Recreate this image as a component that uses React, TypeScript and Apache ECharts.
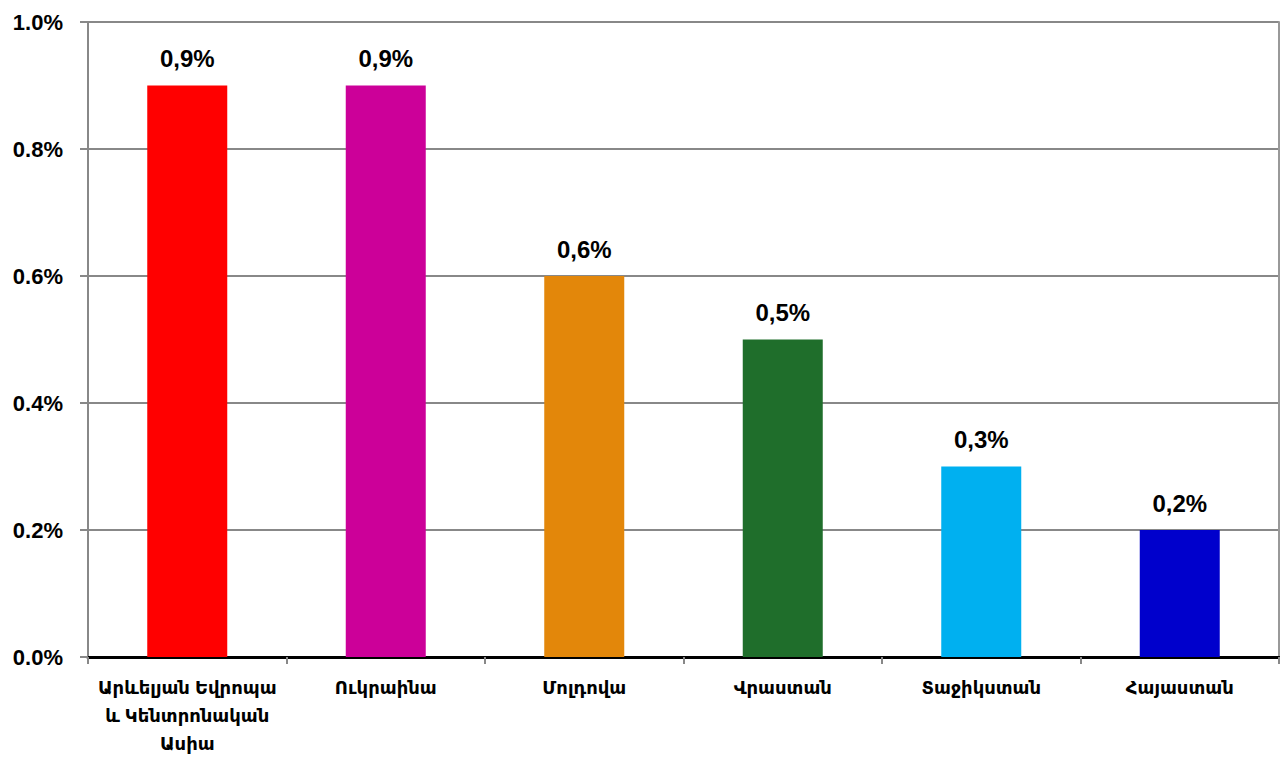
import React, { useEffect, useRef } from "react";
import * as echarts from "echarts";

const categories = [
  "Արևելյան Եվրոպա\nև Կենտրոնական\nԱսիա",
  "Ուկրաինա",
  "Մոլդովա",
  "Վրաստան",
  "Տաջիկստան",
  "Հայաստան",
];
const values = [0.9, 0.9, 0.6, 0.5, 0.3, 0.2];
const barColors = ["#FF0000", "#CC0099", "#E3870A", "#1F6E2B", "#00B0F0", "#0000CC"];
const yTicks = { min: 0, max: 1.0, interval: 0.2 };

export default function App() {
  const ref = useRef<HTMLDivElement>(null);
  useEffect(() => {
    if (!ref.current) return;
    const chart = echarts.init(ref.current, undefined, { renderer: "svg" });
    const font = "'Liberation Sans', 'DejaVu Sans', Arial, sans-serif";
    chart.setOption({
      animation: false,
      grid: { left: 88, right: 1, top: 22, bottom: 92, containLabel: false },
      xAxis: [
        {
          type: "category",
          data: categories,
          axisLine: { show: true, lineStyle: { color: "#888888", width: 2 } },
          axisTick: { show: true, alignWithLabel: false, length: 7, lineStyle: { color: "#888888", width: 2 } },
          axisLabel: {
            interval: 0,
            margin: 17,
            color: "#000",
            fontFamily: font,
            fontWeight: "bold",
            fontSize: 18,
            lineHeight: 28,
          },
          splitLine: { show: false },
        },
        {
          type: "category",
          data: categories,
          position: "top",
          axisLine: { show: true, lineStyle: { color: "#000000", width: 3 } },
          axisTick: { show: false },
          axisLabel: { show: false },
        },
      ],
      yAxis: [
        {
          type: "value",
          min: yTicks.min,
          max: yTicks.max,
          interval: yTicks.interval,
          axisLine: { show: true, lineStyle: { color: "#888888", width: 2 } },
          axisTick: { show: true, length: 8, lineStyle: { color: "#888888", width: 2 } },
          axisLabel: {
            margin: 25,
            color: "#000",
            fontFamily: font,
            fontWeight: "bold",
            fontSize: 22,
            formatter: (v: number) => v.toFixed(1) + "%",
          },
          splitLine: { show: true, lineStyle: { color: "#888888", width: 2 } },
        },
        {
          type: "value",
          min: yTicks.min,
          max: yTicks.max,
          interval: yTicks.interval,
          position: "right",
          axisLine: { show: true, lineStyle: { color: "#999999", width: 2 } },
          axisTick: { show: false },
          axisLabel: { show: false },
          splitLine: { show: false },
        },
      ],
      series: [
        {
          type: "bar",
          data: values.map((v, i) => ({ value: v, itemStyle: { color: barColors[i] } })),
          barWidth: 80,
          label: {
            show: true,
            position: "top",
            distance: 15,
            color: "#000",
            fontFamily: font,
            fontWeight: "bold",
            fontSize: 24,
            formatter: (p: any) => p.value.toFixed(1).replace(".", ",") + "%",
          },
        },
      ],
    });
    return () => chart.dispose();
  }, []);
  return <div ref={ref} style={{ width: 1280, height: 758, position: "fixed", left: 0, top: 0, background: "#fff" }} />;
}
